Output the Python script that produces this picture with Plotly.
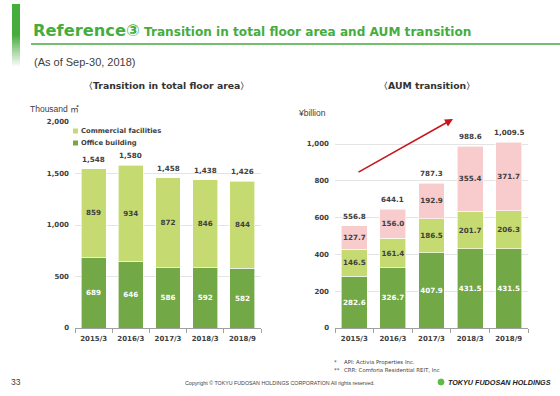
import plotly.graph_objects as go

W, H = 560, 396

categories = ["2015/3", "2016/3", "2017/3", "2018/3", "2018/9"]

# Left chart: total floor area (thousand m2)
floor_series = ["Office building", "Commercial facilities"]
office_area = [689, 646, 586, 592, 582]
commercial_area = [859, 934, 872, 846, 844]

# Right chart: AUM (billion yen)
aum_bottom = [282.6, 326.7, 407.9, 431.5, 431.5]
aum_middle = [146.5, 161.4, 186.5, 201.7, 206.3]
aum_top = [127.7, 156.0, 192.9, 355.4, 371.7]

left_ticks = [0, 500, 1000, 1500, 2000]
right_ticks = [0, 200, 400, 600, 800, 1000]

DARK = "#72A846"
LIGHT = "#C6DA72"
PINK = "#F8CBCD"
GREEN = "#45AD3E"
TXT = "#404040"
NUMFONT = "DejaVu Sans"


def fx(x):
    return x / W


def fy(y):
    return 1 - y / H


def fmt_int(v):
    return f"{v:,.0f}"


def fmt_1(v):
    return f"{v:,.1f}"


fig = go.Figure()

bar_common = dict(
    textposition="inside",
    insidetextanchor="middle",
    textangle=0,
    constraintext="none",
    showlegend=False,
    hoverinfo="skip",
)

# Left stacked bars
fig.add_trace(go.Bar(x=categories, y=office_area, name=floor_series[0],
                     marker=dict(color=DARK, line=dict(color="white", width=0.6)),
                     text=[fmt_int(v) for v in office_area],
                     textfont=dict(family=NUMFONT, size=7.2, color="white", weight="bold"),
                     xaxis="x", yaxis="y", **bar_common))
fig.add_trace(go.Bar(x=categories, y=commercial_area, name=floor_series[1],
                     marker=dict(color=LIGHT, line=dict(color="white", width=0.6)),
                     text=[fmt_int(v) for v in commercial_area],
                     textfont=dict(family=NUMFONT, size=7.2, color=TXT, weight="bold"),
                     xaxis="x", yaxis="y", **bar_common))
left_tot = [a + b for a, b in zip(office_area, commercial_area)]

# Right stacked bars
for vals, col, tcol in [(aum_bottom, DARK, "white"), (aum_middle, LIGHT, TXT), (aum_top, PINK, TXT)]:
    fig.add_trace(go.Bar(x=categories, y=vals,
                         marker=dict(color=col, line=dict(color="white", width=0.6)),
                         text=[fmt_1(v) for v in vals],
                         textfont=dict(family=NUMFONT, size=7.2, color=tcol, weight="bold"),
                         xaxis="x2", yaxis="y2", **bar_common))
right_tot = [a + b + c for a, b, c in zip(aum_bottom, aum_middle, aum_top)]

axis_x = dict(type="category", showline=True, linecolor="#A0A0A0", linewidth=1,
              ticks="outside", tickson="boundaries", ticklen=4, tickcolor="#A0A0A0",
              tickangle=0, ticklabelstandoff=4,
              tickfont=dict(family=NUMFONT, size=7, color=TXT, weight="bold"),
              showgrid=False, fixedrange=True, automargin=False)
axis_y = dict(showline=False, showgrid=True, gridcolor="#E4E4E4", gridwidth=1,
              zeroline=False, ticks="", tickformat=",", automargin=False,
              ticklabelstandoff=5,
              tickfont=dict(family=NUMFONT, size=7, color=TXT, weight="bold"),
              fixedrange=True)

fig.update_layout(
    width=W, height=H,
    margin=dict(l=0, r=0, t=0, b=0, autoexpand=False),
    paper_bgcolor="white", plot_bgcolor="white",
    barmode="stack", bargap=0.33,
    showlegend=False,
    xaxis=dict(domain=[fx(75), fx(261)], anchor="y", **axis_x),
    yaxis=dict(domain=[fy(328), fy(122)], anchor="x", range=[0, 2000],
               tickvals=left_ticks, **axis_y),
    xaxis2=dict(domain=[fx(335), fx(528)], anchor="y2", **axis_x),
    yaxis2=dict(domain=[fy(328), fy(125.6)], anchor="x2", range=[0, 1100],
                tickvals=right_ticks, **axis_y),
)

shapes = []
# decorative vertical bar with fade
shapes.append(dict(type="rect", xref="paper", yref="paper", x0=fx(12), x1=fx(20),
                   y0=fy(36), y1=fy(4), fillcolor=GREEN, line=dict(width=0)))
nsteps = 15
for i in range(nsteps):
    y0 = 36 + i * 30 / nsteps
    y1 = y0 + 30 / nsteps
    shapes.append(dict(type="rect", xref="paper", yref="paper", x0=fx(12), x1=fx(20),
                       y0=fy(y1), y1=fy(y0), fillcolor=GREEN,
                       opacity=max(0.0, 1 - (i + 1) / (nsteps + 1)), line=dict(width=0)))
# underline
shapes.append(dict(type="line", xref="paper", yref="paper", x0=fx(31), x1=1,
                   y0=fy(44), y1=fy(44), line=dict(color=GREEN, width=1.5)))
# legend squares
legend_y = [131, 143]
legend_cols = [LIGHT, DARK]
for yy, col in zip(legend_y, legend_cols):
    shapes.append(dict(type="rect", xref="paper", yref="paper", x0=fx(73), x1=fx(78),
                       y0=fy(yy + 2.5), y1=fy(yy - 2.5), fillcolor=col, line=dict(width=0)))
# logo circle
shapes.append(dict(type="circle", xref="paper", yref="paper", x0=fx(438), x1=fx(444),
                   y0=fy(385), y1=fy(379), fillcolor="#5DBB46", line=dict(color="#5DBB46", width=1)))
fig.update_layout(shapes=shapes)

SANS = "Liberation Sans"
ann = []


def text(x, y, s, size, color=TXT, bold=False, xanchor="left", family=SANS, italic=False):
    ann.append(dict(x=fx(x), y=fy(y), xref="paper", yref="paper", text=s, showarrow=False,
                    xanchor=xanchor, yanchor="middle",
                    font=dict(family=family, size=size, color=color,
                              weight="bold" if bold else "normal",
                              style="italic" if italic else "normal")))


# bar totals
for cat, v in zip(categories, left_tot):
    ann.append(dict(x=cat, y=v, xref="x", yref="y", text=fmt_int(v), showarrow=False,
                    yanchor="bottom", yshift=3,
                    font=dict(family=NUMFONT, size=7.2, color=TXT, weight="bold")))
for cat, v in zip(categories, right_tot):
    ann.append(dict(x=cat, y=v, xref="x2", yref="y2", text=fmt_1(v), showarrow=False,
                    yanchor="bottom", yshift=3,
                    font=dict(family=NUMFONT, size=7.2, color=TXT, weight="bold")))

ann.append(dict(x=fx(31), y=fy(30), xref="paper", yref="paper", showarrow=False,
                xanchor="left", yanchor="middle",
                text="<span style='font-size:16.3px'>Reference③</span> Transition in total floor area and AUM transition",
                font=dict(family="DejaVu Sans", size=12.1, color=GREEN, weight="bold")))
text(32, 62, "(As of Sep-30, 2018)", 11)
text(166, 86, "〈Transition in total floor area〉", 9.3, color="#333333", bold=True,
     xanchor="center", family="DejaVu Sans")
text(427, 86, "〈AUM transition〉", 9.3, color="#333333", bold=True,
     xanchor="center", family="DejaVu Sans")
text(28, 108, "Thousand <span style='font-family:Noto Sans CJK JP'>㎡</span>", 8.5)
text(296, 113, "¥billion", 8.5)
for yy, name in zip(legend_y, [floor_series[1], floor_series[0]]):
    text(79, yy, name, 6.8, bold=True, family=NUMFONT)
text(332, 362, "*", 5.4, family="DejaVu Sans")
text(342, 362, "API: Activia Properties Inc.", 5.4, family="DejaVu Sans")
text(332, 370, "**", 5.4, family="DejaVu Sans")
text(342, 370, "CRR: Comforia Residential REIT, Inc", 5.4, family="DejaVu Sans")
text(9, 382, "33", 8.5)
text(280, 383, "Copyright © TOKYU FUDOSAN HOLDINGS CORPORATION All rights reserved.", 5.3, xanchor="center")
text(446, 382, "TOKYU FUDOSAN HOLDINGS", 7.2, color="#202020", bold=True, italic=True)

# trend arrow
ann.append(dict(x=fx(453), y=fy(119), xref="paper", yref="paper", ax=357 - 453, ay=173 - 119,
                axref="pixel", ayref="pixel", showarrow=True, arrowhead=2, arrowsize=1,
                arrowwidth=1.6, arrowcolor="#C8161D", text=""))
fig.update_layout(annotations=ann)

fig.write_html(
    "out.html",
    config={"displayModeBar": False, "staticPlot": True},
    post_script="document.body.style.margin='0';document.body.style.padding='0';"
                "document.body.style.overflow='hidden';",
)
